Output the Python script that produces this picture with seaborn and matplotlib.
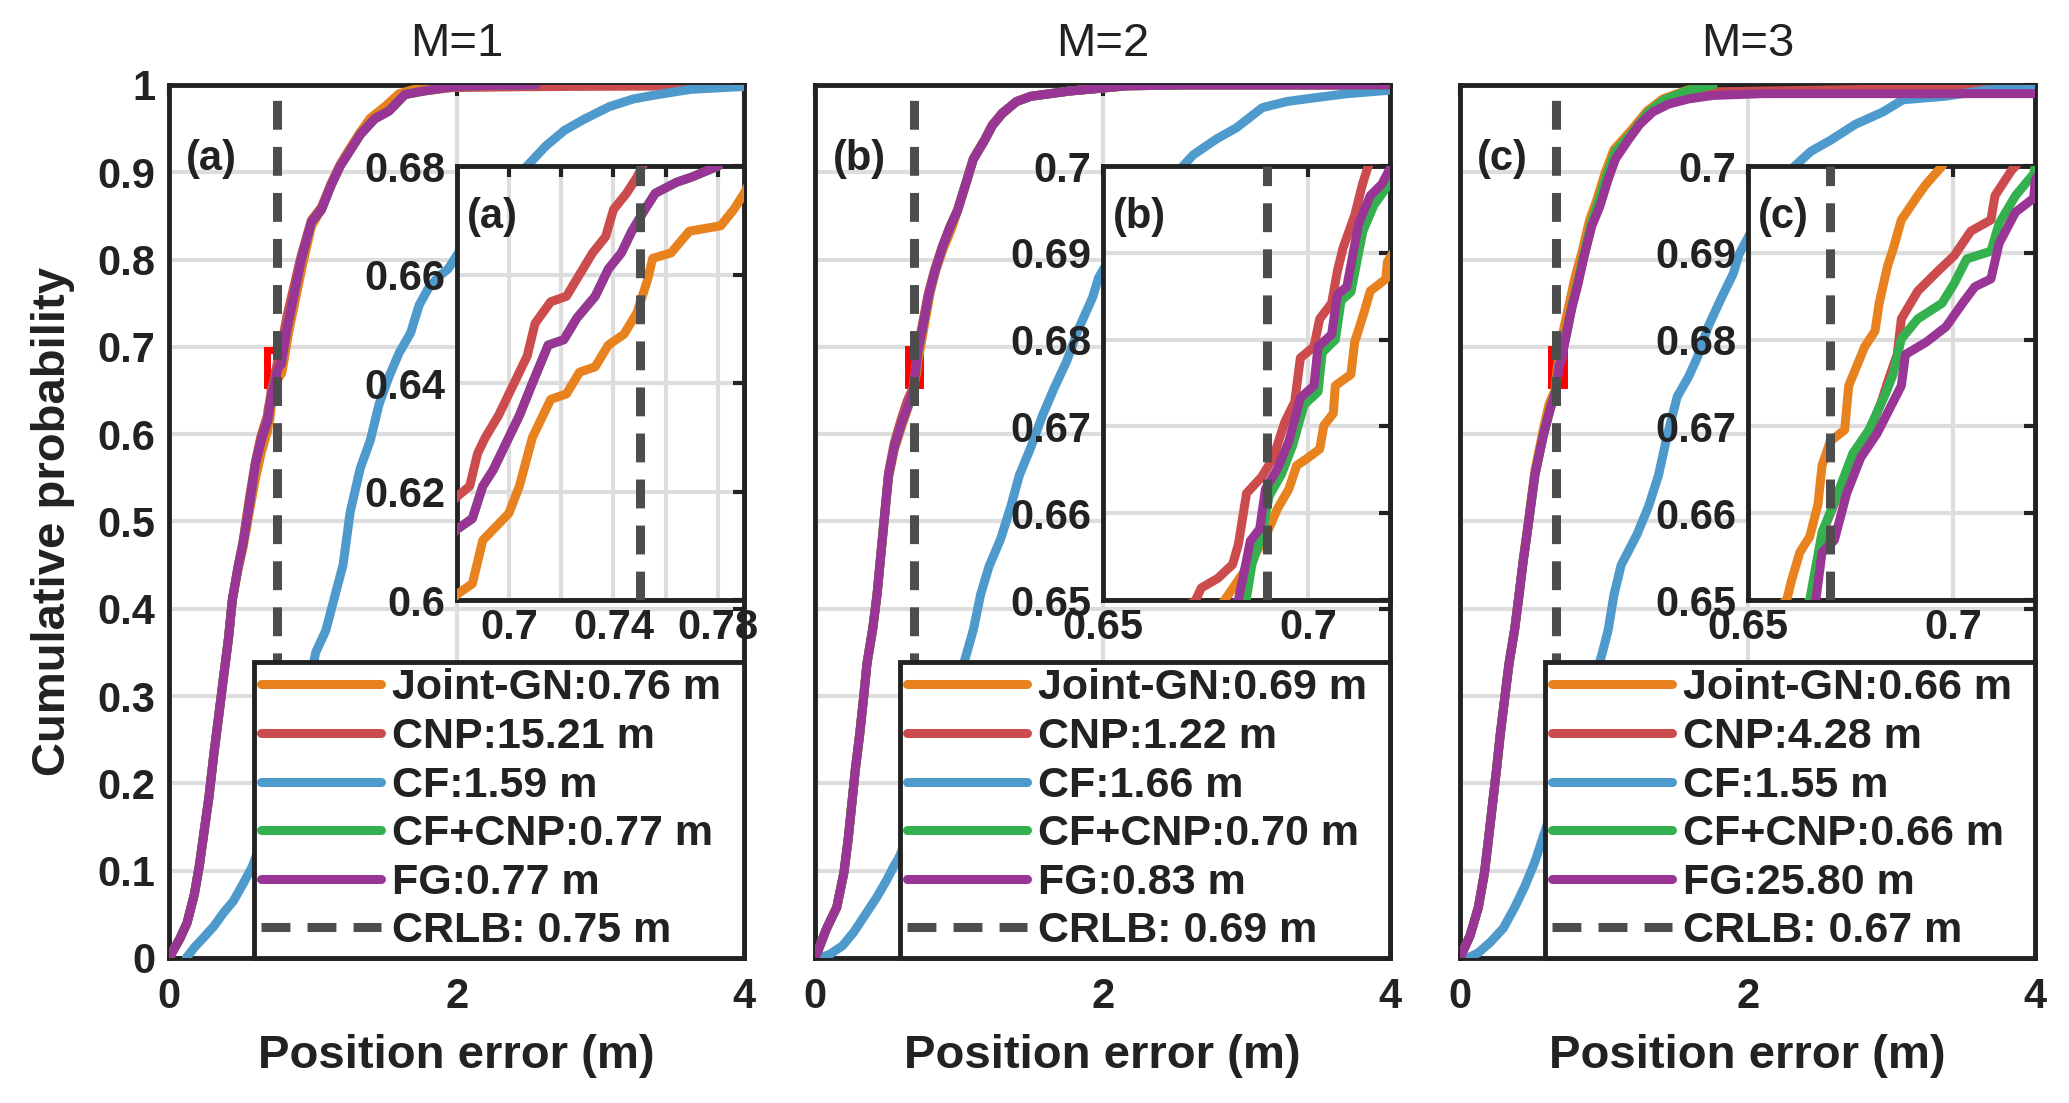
import seaborn as sns
import matplotlib.pyplot as plt
from matplotlib.patches import Rectangle
from matplotlib.ticker import FormatStrFormatter

# ---- data (position error in m, cumulative probability) ----
labels = ["Joint-GN", "CNP", "CF", "CF+CNP", "FG"]
colors = ["#E8821E", "#CC4C4E", "#4E9ACD", "#35B04E", "#983595"]

# M=1
m1_joint_x = [0, .075, .125, .176, .21, .244, .278, .312, .346, .38, .414, .44, .48, .515, .56, .60, .64,
              .680, .686, .690, .694, .700, .704, .709, .716, .722, .727, .733, .738, .744, .749, .753, .755,
              .762, .769, .781, .786, .790,
              .83, .88, .93, .99, 1.06, 1.125, 1.19, 1.26, 1.33, 1.40, 1.50, 1.60, 1.75, 1.90]
m1_joint_p = [0, .022, .04, .073, .105, .145, .185, .234, .278, .323, .367, .41, .445, .47, .512, .548, .578,
              .601, .603, .611, .613, .616, .621, .630, .637, .638, .642, .643, .647, .649, .653, .659, .663,
              .664, .668, .669, .672, .675,
              .715, .755, .795, .838, .858, .886, .909, .928, .946, .962, .975, .99, .997, 1.0]
m1_cnp_x = [0, .075, .125, .176, .21, .244, .278, .312, .346, .38, .414, .44, .48, .515, .56, .60, .64,
            .680, .685, .688, .691, .696, .702, .707, .710, .716, .722, .727, .732, .737, .740, .745, .749, .751,
            .78, .82, .87, .92, .99, 1.06, 1.125, 1.19, 1.26, 1.33, 1.43, 1.53, 1.64, 1.77, 1.97, 2.5, 3.0, 4.0]
m1_cnp_p = [0, .022, .04, .073, .105, .145, .185, .234, .278, .323, .367, .41, .448, .478, .528, .568, .598,
            .619, .621, .627, .630, .634, .640, .645, .651, .655, .656, .660, .664, .667, .672, .675, .678, .680,
            .70, .735, .77, .805, .845, .86, .886, .908, .926, .944, .962, .971, .989, .993, .997, .998, .9985, .999]
m1_cf_x = [0.12, .176, .244, .31, .38, .447, .515, .58, .65, .72, .80, .88, .96, 1.02, 1.09, 1.16, 1.21, 1.26,
           1.33, 1.40, 1.46, 1.53, 1.60, 1.68, 1.74, 1.80, 1.87, 1.94, 2.1, 2.3, 2.5, 2.62, 2.75, 2.89, 3.06,
           3.23, 3.4, 3.63, 3.97, 4.0]
m1_cf_p = [0, .012, .024, .036, .052, .065, .085, .105, .137, .17, .21, .25, .30, .35, .375, .419, .45, .511,
           .561, .593, .634, .666, .693, .716, .748, .766, .78, .789, .83, .875, .909, .93, .948, .961, .975,
           .984, .989, .995, .998, .998]
m1_cfcnp_x = [0, .075, .125, .176, .21, .244, .278, .312, .346, .38, .414, .44, .48, .515, .56, .60, .64,
              .680, .686, .690, .694, .699, .704, .709, .715, .721, .726, .733, .738, .743, .747, .752, .756,
              .764, .770, .780,
              .82, .87, .92, .99, 1.06, 1.125, 1.19, 1.26, 1.33, 1.43, 1.53, 1.64, 1.77, 1.97, 2.21, 2.55]
m1_cfcnp_p = [0, .022, .04, .073, .105, .145, .185, .234, .278, .323, .367, .41, .448, .475, .52, .565, .592,
              .613, .615, .621, .624, .629, .634, .640, .647, .648, .652, .656, .661, .664, .668, .672, .675,
              .677, .678, .680,
              .72, .76, .80, .843, .857, .884, .907, .925, .943, .961, .97, .989, .993, .998, .9995, 1.0]
m1_fg_x = [0, .075, .125, .176, .21, .244, .278, .312, .346, .38, .414, .44, .48, .515, .56, .60, .64,
           .680, .686, .690, .694, .699, .704, .709, .715, .721, .726, .733, .738, .743, .747, .752, .756,
           .764, .770, .780,
           .82, .87, .92, .99, 1.06, 1.125, 1.19, 1.26, 1.33, 1.43, 1.53, 1.64, 1.77, 1.97, 2.21, 2.55]
m1_fg_p = [0, .022, .04, .073, .105, .145, .185, .234, .278, .323, .367, .41, .448, .475, .52, .565, .592,
           .613, .615, .621, .624, .629, .634, .640, .647, .648, .652, .656, .661, .664, .668, .672, .675,
           .677, .678, .680,
           .72, .76, .80, .843, .857, .884, .907, .925, .943, .961, .97, .989, .993, .998, .9995, 1.0]

# M=2
m2_joint_x = [0, .08, .15, .2, .23, .255, .28, .31, .336, .36, .4, .43, .47, .51, .55, .60, .645,
              .6797, .683, .6863, .6896, .6925, .6953, .6972, .70, .7028, .7038, .7061, .7066, .7104, .7113,
              .7137, .7151, .7189, .7193,
              .73, .76, .80, .84, .89, .95, .99, 1.05, 1.1, 1.18, 1.23, 1.3, 1.4, 1.5, 1.77, 2.17, 2.58, 4.0]
m2_joint_p = [0, .034, .058, .098, .137, .177, .217, .257, .297, .337, .377, .416, .483, .55, .582, .608, .63,
              .65, .6523, .6546, .6573, .6605, .6628, .6655, .6664, .6674, .6701, .6715, .6747, .676, .6797,
              .6833, .6856, .687, .689,
              .697, .725, .762, .788, .812, .836, .856, .888, .915, .937, .953, .967, .981, .987, .993, .999, 1.0, 1.0]
m2_cnp_x = [0, .08, .15, .2, .23, .255, .28, .31, .336, .36, .4, .43, .47, .51, .55, .60, .64,
            .6726, .674, .678, .6816, .683, .685, .6887, .6915, .6943, .6967, .6981, .7014, .7028, .7057, .7071,
            .7085, .7113, .7132, .7146,
            .745, .785, .83, .886, .94, .99, 1.05, 1.1, 1.18, 1.23, 1.3, 1.4, 1.5, 1.77, 2.17, 2.58, 4.0]
m2_cnp_p = [0, .034, .058, .098, .137, .177, .217, .257, .297, .337, .377, .416, .487, .556, .59, .618, .638,
            .65, .6514, .6525, .6541, .6564, .6623, .6642, .6664, .6705, .6728, .6779, .6792, .6824, .6842, .6879,
            .6906, .6943, .6979, .70,
            .725, .76, .788, .816, .839, .857, .889, .916, .938, .954, .968, .981, .987, .993, .999, 1.0, 1.0]
m2_cf_x = [.027, .1, .19, .27, .35, .43, .5, .55, .58, .7, .85, .95, 1.05, 1.1, 1.15, 1.21, 1.29, 1.36, 1.42,
           1.5, 1.58, 1.66, 1.75, 1.83, 1.93, 1.97, 2.15, 2.35, 2.54, 2.63, 2.79, 2.93, 3.11, 3.28, 3.46, 3.7, 4.0]
m2_cf_p = [0, .004, .014, .03, .05, .07, .09, .106, .114, .16, .23, .29, .347, .376, .416, .449, .48, .517, .553,
           .585, .621, .652, .684, .72, .757, .779, .83, .875, .904, .92, .938, .951, .974, .981, .985, .99, .994]
m2_cfcnp_x = [0, .08, .15, .2, .23, .255, .28, .31, .336, .36, .4, .43, .47, .51, .55, .60, .645,
              .6849, .6863, .6887, .6905, .6935, .6962, .6990, .7024, .7034, .7066, .7080, .7104, .7133, .7160,
              .7193, .7215,
              .75, .79, .83, .886, .94, .99, 1.05, 1.1, 1.18, 1.23, 1.3, 1.4, 1.5, 1.77, 2.17, 2.58, 4.0]
m2_cfcnp_p = [0, .034, .058, .098, .137, .177, .217, .257, .297, .337, .377, .416, .485, .553, .585, .612, .632,
              .65, .6541, .6575, .6620, .6645, .6678, .6725, .6740, .6785, .6800, .6845, .6855, .6925, .6955,
              .6977, .699,
              .724, .759, .785, .815, .838, .856, .888, .915, .937, .953, .967, .981, .987, .993, .999, 1.0, 1.0]
m2_fg_x = [0, .08, .15, .2, .23, .255, .28, .31, .336, .36, .4, .43, .47, .51, .55, .60, .645,
           .683, .685, .6859, .6882, .6896, .6925, .6953, .6981, .7014, .7024, .7057, .7071, .7094, .7123,
           .7151, .7179, .72,
           .75, .79, .83, .886, .94, .99, 1.05, 1.1, 1.18, 1.23, 1.3, 1.4, 1.5, 1.77, 2.17, 2.58, 4.0]
m2_fg_p = [0, .034, .058, .098, .137, .177, .217, .257, .297, .337, .377, .416, .485, .553, .585, .612, .632,
           .65, .6546, .6568, .6582, .6628, .6651, .6683, .6733, .6747, .6792, .6806, .6852, .6861, .6934,
           .6966, .6979, .6998,
           .725, .76, .785, .815, .838, .856, .888, .915, .937, .953, .967, .981, .987, .993, .999, 1.0, 1.0]

# M=3
m3_joint_x = [0, .07, .127, .17, .198, .226, .254, .28, .31, .34, .38, .41, .44, .465, .52, .578, .62,
              .6595, .6607, .6627, .6651, .6671, .6681, .6701, .6736, .6746, .6765, .6785, .681, .682, .684,
              .6855, .6874, .6914, .6934, .6973,
              .72, .76, .80, .85, .90, .95, 1.01, 1.07, 1.19, 1.3, 1.41, 1.58, 1.75]
m3_joint_p = [0, .026, .058, .098, .137, .177, .217, .257, .297, .337, .377, .416, .458, .488, .558, .605, .635,
              .65, .6523, .6555, .6573, .661, .6655, .6683, .6696, .6747, .6769, .6792, .681, .6842, .6884,
              .6906, .6938, .6966, .6979, .70,
              .72, .75, .78, .81, .845, .868, .9, .926, .948, .97, .984, .994, 1.0]
m3_cnp_x = [0, .07, .127, .17, .198, .226, .254, .28, .31, .34, .38, .41, .44, .465, .52, .578, .625,
            .6656, .6686, .6721, .6756, .6795, .6825, .6844, .6864, .6874, .6914, .6963, .7003, .7043, .7092,
            .7102, .7142, .7152,
            .735, .775, .817, .86, .915, .97, 1.03, 1.08, 1.17, 1.25, 1.34, 1.45, 1.59, 1.76, 2.5, 3.3, 4.0]
m3_cnp_p = [0, .026, .058, .098, .137, .177, .217, .257, .297, .337, .377, .416, .456, .485, .553, .598, .628,
            .65, .6582, .6623, .6664, .6692, .6728, .6756, .6783, .6824, .6856, .6879, .6897, .6925, .6938,
            .6966, .6995, .70,
            .715, .745, .772, .804, .84, .862, .894, .917, .939, .957, .971, .981, .988, .992, .994, .996, .996]
m3_cf_x = [.056, .127, .21, .3, .38, .45, .52, .6, .7, .8, .9, .99, 1.03, 1.07, 1.12, 1.23, 1.31, 1.38, 1.44,
           1.51, 1.59, 1.65, 1.73, 1.82, 1.9, 1.94, 2.05, 2.2, 2.32, 2.44, 2.58, 2.75, 2.94, 3.08, 3.37, 3.65, 4.0]
m3_cf_p = [0, .006, .018, .034, .058, .082, .11, .15, .20, .25, .30, .35, .376, .416, .45, .485, .517, .553,
           .598, .643, .666, .688, .725, .757, .784, .806, .84, .88, .906, .924, .937, .955, .969, .983, .987,
           .994, .999]
m3_cfcnp_x = [0, .07, .127, .17, .198, .226, .254, .28, .31, .34, .38, .41, .44, .465, .52, .578, .625,
              .6651, .6681, .6716, .6756, .6795, .6835, .6854, .6874, .6914, .6973, .7003, .7033, .7092, .7112,
              .7152, .7196, .72,
              .74, .78, .82, .86, .91, .96, 1.02, 1.08, 1.2, 1.31, 1.42, 1.59, 1.76]
m3_cfcnp_p = [0, .026, .058, .098, .137, .177, .217, .257, .297, .337, .377, .416, .456, .485, .553, .598, .628,
              .65, .6578, .6619, .6669, .6696, .6737, .676, .6801, .6824, .6842, .6865, .6893, .6902, .6934,
              .6966, .6991, .70,
              .715, .748, .775, .805, .84, .865, .897, .924, .946, .969, .983, .994, 1.0]
m3_fg_x = [0, .07, .127, .17, .198, .226, .254, .28, .31, .34, .38, .41, .44, .465, .52, .578, .625,
           .6666, .6681, .6711, .6741, .6775, .6815, .6844, .6874, .6884, .6934, .6983, .7023, .7053, .7092,
           .7112, .7152, .7196, .72,
           .735, .775, .817, .86, .915, .97, 1.03, 1.08, 1.17, 1.25, 1.34, 1.45, 1.59, 1.76, 2.1, 4.0]
m3_fg_p = [0, .026, .058, .098, .137, .177, .217, .257, .297, .337, .377, .416, .456, .485, .553, .598, .628,
           .65, .6555, .6569, .6623, .6664, .6692, .6719, .6747, .6783, .6797, .6815, .6842, .6861, .687,
           .6911, .6947, .6963, .6984,
           .71, .743, .77, .802, .838, .86, .892, .915, .937, .955, .969, .978, .984, .988, .99, .99]

titles = ["M=1", "M=2", "M=3"]
tags = ["(a)", "(b)", "(c)"]
crlb = [0.75, 0.69, 0.67]
mean_err = [[0.76, 15.21, 1.59, 0.77, 0.77],
            [0.69, 1.22, 1.66, 0.70, 0.83],
            [0.66, 4.28, 1.55, 0.66, 25.80]]
zoom_xlim = [(0.68, 0.79), (0.65, 0.72), (0.65, 0.72)]
zoom_ylim = [(0.60, 0.68), (0.65, 0.70), (0.65, 0.70)]
zoom_box = [(0.68, 0.656, 0.08, 0.04), (0.645, 0.656, 0.085, 0.041), (0.635, 0.656, 0.09, 0.041)]

curves = [
    [(m1_joint_x, m1_joint_p), (m1_cnp_x, m1_cnp_p), (m1_cf_x, m1_cf_p), (m1_cfcnp_x, m1_cfcnp_p), (m1_fg_x, m1_fg_p)],
    [(m2_joint_x, m2_joint_p), (m2_cnp_x, m2_cnp_p), (m2_cf_x, m2_cf_p), (m2_cfcnp_x, m2_cfcnp_p), (m2_fg_x, m2_fg_p)],
    [(m3_joint_x, m3_joint_p), (m3_cnp_x, m3_cnp_p), (m3_cf_x, m3_cf_p), (m3_cfcnp_x, m3_cfcnp_p), (m3_fg_x, m3_fg_p)],
]

# ---- style ----
sns.set_style("white")
plt.rcParams['font.family'] = ['Liberation Sans', 'DejaVu Sans']
plt.rcParams['font.weight'] = 'bold'
plt.rcParams['axes.labelweight'] = 'bold'
ink = "#222222"
gridc = "#dddddd"
dash = (0, (3.2, 1.9))
LW = 6.5

fig = plt.figure(figsize=(20.69, 11.03), dpi=100)
lefts = [0.0817, 0.394, 0.7057]


def style_axes(a, size):
    for s in a.spines.values():
        s.set_visible(True)
        s.set_color(ink)
        s.set_linewidth(3.5)
    a.tick_params(direction="in", length=8, width=3, top=True, right=True,
                  colors=ink, labelsize=size)
    a.grid(True, color=gridc, lw=3)
    a.set_axisbelow(True)


for k in range(3):
    ax = fig.add_axes([lefts[k], 0.1315, 0.278, 0.7915])
    style_axes(ax, 30)
    ax.tick_params(axis="y", pad=10)
    ax.tick_params(axis="x", pad=14)

    ax.add_patch(Rectangle(zoom_box[k][:2], zoom_box[k][2], zoom_box[k][3],
                           fill=False, edgecolor="#ff0000", lw=5, zorder=1))

    for (xs, ps), c, name, m in zip(curves[k], colors, labels, mean_err[k]):
        sns.lineplot(x=xs, y=ps, ax=ax, color=c, lw=LW, sort=False,
                     estimator=None, label=f"{name}:{m:.2f} m", zorder=3)
    ax.axvline(crlb[k], color="#4d4d4d", lw=LW, ls=dash, zorder=4,
               label=f"CRLB: {crlb[k]:.2f} m")

    ax.set_xlim(0, 4)
    ax.set_ylim(0, 1)
    ax.set_xticks([0, 2, 4])
    ax.set_yticks([i / 10 for i in range(11)])
    ax.yaxis.set_major_formatter(FormatStrFormatter('%g'))
    if k == 0:
        ax.set_ylabel("Cumulative probability", fontsize=34, labelpad=16, color=ink)
    else:
        ax.tick_params(axis="y", labelleft=False)
    ax.set_xlabel("Position error (m)", fontsize=34, labelpad=12, color=ink)
    ax.set_title(titles[k], fontsize=34, fontweight="normal", pad=21, color=ink)
    ax.text(0.03, 0.915, tags[k], transform=ax.transAxes, fontsize=30,
            fontweight="bold", va="center", ha="left", color=ink)

    h, l = ax.get_legend_handles_labels()
    leg = ax.legend(h, l, loc="lower left", bbox_to_anchor=(0.148, 0.0, 0.852, 0.35),
                    mode="expand", borderaxespad=0, fontsize=31, handlelength=2.8,
                    handletextpad=0.25, labelspacing=0.2, borderpad=0.15,
                    fancybox=False, framealpha=1, edgecolor=ink, labelcolor=ink)
    leg.get_frame().set_linewidth(3.5)
    leg.set_zorder(6)

    # zoomed inset
    ins = ax.inset_axes([0.5, 0.41, 0.5, 0.497])
    ins.set_facecolor("white")
    style_axes(ins, 30)
    ins.tick_params(axis="y", pad=8)
    ins.tick_params(axis="x", pad=6)
    for (xs, ps), c in zip(curves[k], colors):
        sns.lineplot(x=xs, y=ps, ax=ins, color=c, lw=LW, sort=False,
                     estimator=None, legend=False, zorder=3)
    ins.axvline(crlb[k], color="#4d4d4d", lw=LW, ls=dash, zorder=4)
    ins.set_xlim(*zoom_xlim[k])
    ins.set_ylim(*zoom_ylim[k])
    if k == 0:
        ins.set_xticks([0.70, 0.72, 0.74, 0.76, 0.78])
        ins.set_xticklabels(["0.7", "", "0.74", "", "0.78"])
        ins.set_yticks([0.60, 0.62, 0.64, 0.66, 0.68])
        ins.set_yticklabels(["0.6", "0.62", "0.64", "0.66", "0.68"])
    else:
        ins.set_xticks([0.65, 0.70])
        ins.set_xticklabels(["0.65", "0.7"])
        ins.set_yticks([0.65, 0.66, 0.67, 0.68, 0.69, 0.70])
        ins.set_yticklabels(["0.65", "0.66", "0.67", "0.68", "0.69", "0.7"])
    ins.set_xlabel("")
    ins.set_ylabel("")
    ins.text(0.035, 0.882, tags[k], transform=ins.transAxes, fontsize=30,
             fontweight="bold", va="center", ha="left", color=ink)

fig.savefig("out.png", dpi=100)
